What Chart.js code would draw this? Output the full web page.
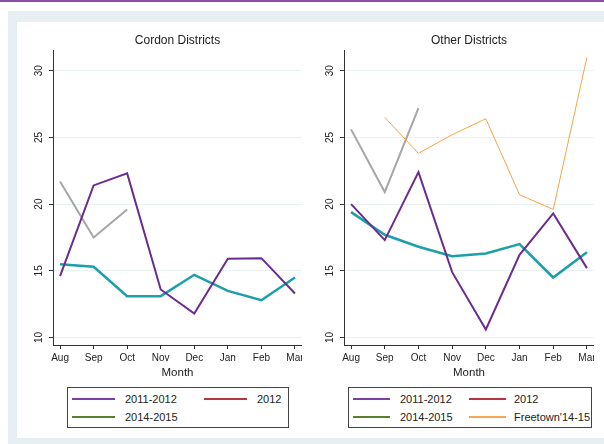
<!DOCTYPE html>
<html>
<head>
<meta charset="utf-8">
<script src="https://cdn.jsdelivr.net/npm/chart.js@4/dist/chart.umd.min.js"></script>
<style>
    body { margin: 0; width: 604px; height: 444px; overflow: hidden; background: #fff; font-family: "Liberation Sans", Arial, sans-serif; }
    .topbar { position: absolute; left: 0; top: 0; width: 604px; height: 2px; background: #8a4ca6; }
    .frame { position: absolute; left: 8px; top: 11px; right: 0; bottom: 0; background: #e8eff2; }
    .panel { position: absolute; left: 17px; top: 22px; right: 0; bottom: 6px; background: #fff; }
    canvas { position: absolute; top: 20px; }
    .legend { position: absolute; top: 387px; height: 39px; border: 1px solid #444; overflow: hidden; background: #fff; }
    .legend .item { position: absolute; font-size: 11px; color: #222; white-space: nowrap; line-height: 12px; }
    .legend .swatch { position: absolute; height: 2px; }
</style>
</head>
<body>
<div class="topbar"></div>
<div class="frame"></div>
<div class="panel"></div>

<canvas id="cordon" width="282" height="360" style="left:20px"></canvas>
<canvas id="other" width="284" height="360" style="left:310px"></canvas>

<div class="legend" id="legend-cordon" style="left:67px; width:220px"></div>
<div class="legend" id="legend-other" style="left:348px; width:242px"></div>

<script>
const months = ["Aug", "Sep", "Oct", "Nov", "Dec", "Jan", "Feb", "Mar"];
const yTicks = [10, 15, 20, 25, 30];

// Cordon districts
const cordon2011 = [14.6, 21.4, 22.3, 13.6, 11.8, 15.9, 15.95, 13.3];
const cordon2012 = [15.5, 15.3, 13.1, 13.1, 14.7, 13.5, 12.8, 14.5];
const cordon2014 = [21.7, 17.5, 19.6, null, null, null, null, null];

// Other districts
const other2011 = [20.0, 17.3, 22.4, 14.9, 10.6, 16.2, 19.3, 15.2];
const other2012 = [19.4, 17.7, 16.8, 16.1, 16.3, 17.0, 14.5, 16.4];
const other2014 = [25.6, 20.9, 27.2, null, null, null, null, null];
const freetown = [null, 26.5, 23.8, 25.2, 26.4, 20.7, 19.6, 31.0];

const legendItems = [
    { label: "2011-2012", color: "#7b3fa0" },
    { label: "2012", color: "#b3353f" },
    { label: "2014-2015", color: "#5a7f2a" },
    { label: "Freetown'14-15", color: "#f5a850" }
];

const FONT = '"Liberation Sans", Arial, sans-serif';

function toPoints(values) {
    return values.map((v, i) => ({ x: i, y: v }));
}

function line(label, values, color, width) {
    return {
        label: label,
        data: toPoints(values),
        borderColor: color,
        borderWidth: width,
        pointRadius: 0,
        tension: 0,
        spanGaps: false,
        fill: false
    };
}

// title and the vertical y tick labels
const panelText = {
    id: "panelText",
    afterDraw(chart, args, opts) {
        const ctx = chart.ctx;
        const area = chart.chartArea;
        const yScale = chart.scales.y;
        ctx.save();
        ctx.fillStyle = "#222";
        ctx.textAlign = "center";
        ctx.textBaseline = "middle";
        ctx.font = "12px " + FONT;
        ctx.fillText(opts.title, (area.left + area.right) / 2, 21);
        ctx.font = "10px " + FONT;
        yTicks.forEach(v => {
            ctx.save();
            ctx.translate(area.left - 13.5, yScale.getPixelForValue(v));
            ctx.rotate(-Math.PI / 2);
            ctx.fillText(String(v), 0, 0);
            ctx.restore();
        });
        ctx.restore();
    }
};

function makeChart(id, title, datasets, yWidth) {
    return new Chart(document.getElementById(id), {
        type: "line",
        data: { datasets: datasets },
        plugins: [panelText],
        options: {
            responsive: false,
            animation: false,
            devicePixelRatio: 1,
            layout: { padding: { top: 30, right: 0, bottom: 0, left: 0 } },
            plugins: {
                legend: { display: false },
                tooltip: { enabled: false },
                panelText: { title: title }
            },
            scales: {
                x: {
                    type: "linear",
                    min: -0.21,
                    max: 7.21,
                    border: { color: "#333", width: 1 },
                    grid: { drawOnChartArea: false, drawTicks: true, tickLength: 4, tickColor: "#333" },
                    ticks: {
                        stepSize: 1,
                        includeBounds: false,
                        autoSkip: false,
                        maxRotation: 0,
                        padding: 3,
                        color: "#222",
                        font: { family: FONT, size: 10 },
                        callback: v => months[v]
                    },
                    title: { display: true, text: "Month", color: "#222", font: { family: FONT, size: 11.5 }, padding: { top: 0, bottom: 0 } },
                    afterFit(scale) {
                        scale.height = 35;
                        scale.paddingLeft = 0;
                        scale.paddingRight = 0;
                    }
                },
                y: {
                    min: 9.44,
                    max: 31.55,
                    border: { color: "#333", width: 1 },
                    grid: { color: "#eaf1f3", lineWidth: 1, drawTicks: true, tickLength: 4, tickColor: "#333" },
                    ticks: { stepSize: 5, includeBounds: false, display: false },
                    afterFit(scale) {
                        scale.width = yWidth;
                        scale.paddingTop = 0;
                        scale.paddingBottom = 0;
                    }
                }
            }
        }
    });
}

makeChart("cordon", "Cordon Districts", [
    line("2011-2012", cordon2011, "#6a2c91", 2),
    line("2012", cordon2012, "#1a9fab", 2.5),
    line("2014-2015", cordon2014, "#a6a6a6", 2)
], 33);

makeChart("other", "Other Districts", [
    line("Freetown'14-15", freetown, "#f5a445", 1),
    line("2014-2015", other2014, "#a6a6a6", 2),
    line("2011-2012", other2011, "#6a2c91", 2),
    line("2012", other2012, "#1a9fab", 2.5)
], 34);

// boxed legends under each panel
function buildLegend(id, items, cols) {
    const box = document.getElementById(id);
    items.forEach((item, i) => {
        const col = i % 2;
        const row = Math.floor(i / 2);
        const sw = document.createElement("div");
        sw.className = "swatch";
        sw.style.background = item.color;
        sw.style.left = cols[col][0] + "px";
        sw.style.width = cols[col][1] + "px";
        sw.style.top = (10 + row * 18) + "px";
        box.appendChild(sw);
        const txt = document.createElement("div");
        txt.className = "item";
        txt.textContent = item.label;
        txt.style.left = cols[col][2] + "px";
        txt.style.top = (5 + row * 18) + "px";
        box.appendChild(txt);
    });
}

buildLegend("legend-cordon", legendItems.slice(0, 3), [[4, 43, 57], [136, 43, 189]]);
buildLegend("legend-other", legendItems, [[4, 37, 51], [120, 37, 165]]);
</script>
</body>
</html>
